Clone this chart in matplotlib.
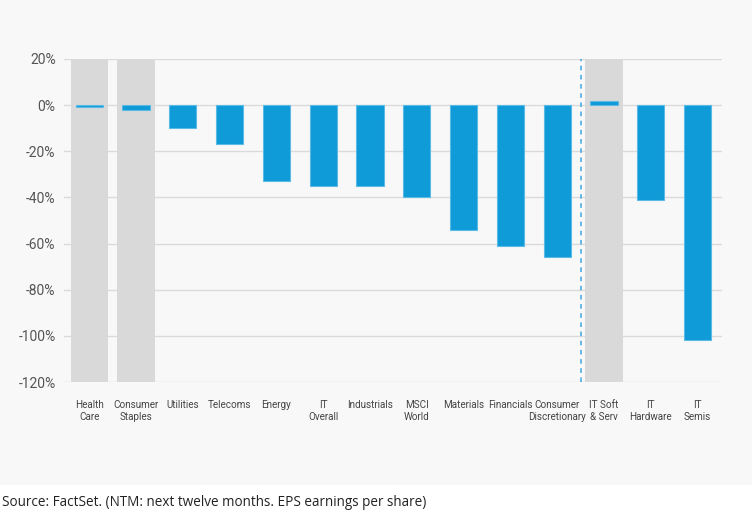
import numpy as np
import matplotlib.pyplot as plt
from matplotlib.patches import Rectangle

categories = ['Health\nCare', 'Consumer\nStaples', 'Utilities', 'Telecoms', 'Energy',
              'IT\nOverall', 'Industrials', 'MSCI\nWorld', 'Materials', 'Financials',
              'Consumer\nDiscretionary', 'IT Soft\n& Serv', 'IT\nHardware', 'IT\nSemis']
eps_change = [-1, -2, -10, -17, -33, -35, -35, -40, -54, -61, -66, 2, -41, -102]
shaded = ['Health\nCare', 'Consumer\nStaples', 'IT Soft\n& Serv']
yticks = [20, 0, -20, -40, -60, -80, -100, -120]

fig = plt.figure(figsize=(7.52, 5.16), dpi=100, facecolor='white')
# light grey panel behind the chart
fig.patches.append(Rectangle((0, 31/516), 1, 485/516, transform=fig.transFigure,
                             facecolor='#f8f8f8', edgecolor='none', zorder=-10))
ax = fig.add_axes([64/752, 1 - 382/516, (722 - 64)/752, (382 - 59)/516])
ax.patch.set_alpha(0)

x = np.arange(len(categories))
for i, c in enumerate(categories):
    if c in shaded:
        ax.axvspan(i - 0.4, i + 0.4, color='#d9d9d9', zorder=1, lw=0)

ax.bar(x, eps_change, width=0.58, color='#0f9ad8', edgecolor='#5cbbe6', linewidth=0.8, zorder=3)

split = categories.index('IT Soft\n& Serv') - 0.5
ax.axvline(split, color='#3fa6dc', linestyle=(0, (3, 3)), linewidth=1.1, zorder=4)

ax.set_ylim(-120, 20)
ax.set_xlim(-0.54, 13.52)
ax.set_yticks(yticks)
ax.set_yticklabels([f'{v}%' for v in yticks], fontsize=10, color='#555555', family='Roboto')
ax.yaxis.grid(True, color='#dadada', linewidth=1, zorder=0)
ax.set_axisbelow(True)
ax.set_xticks(x)
ax.set_xticklabels(categories, fontsize=7.1, color='#444444', linespacing=1.25, family='Roboto')
ax.tick_params(length=0)
ax.tick_params(axis='x', pad=13)
ax.tick_params(axis='y', pad=6)
for s in ax.spines.values():
    s.set_visible(False)

fig.text(2/752, 1 - 503/516, 'Source: FactSet. (NTM: next twelve months. EPS earnings per share)',
         fontsize=9.75, color='#222222', family='Open Sans', va='center')

fig.savefig('out.png', dpi=100, facecolor='white')
